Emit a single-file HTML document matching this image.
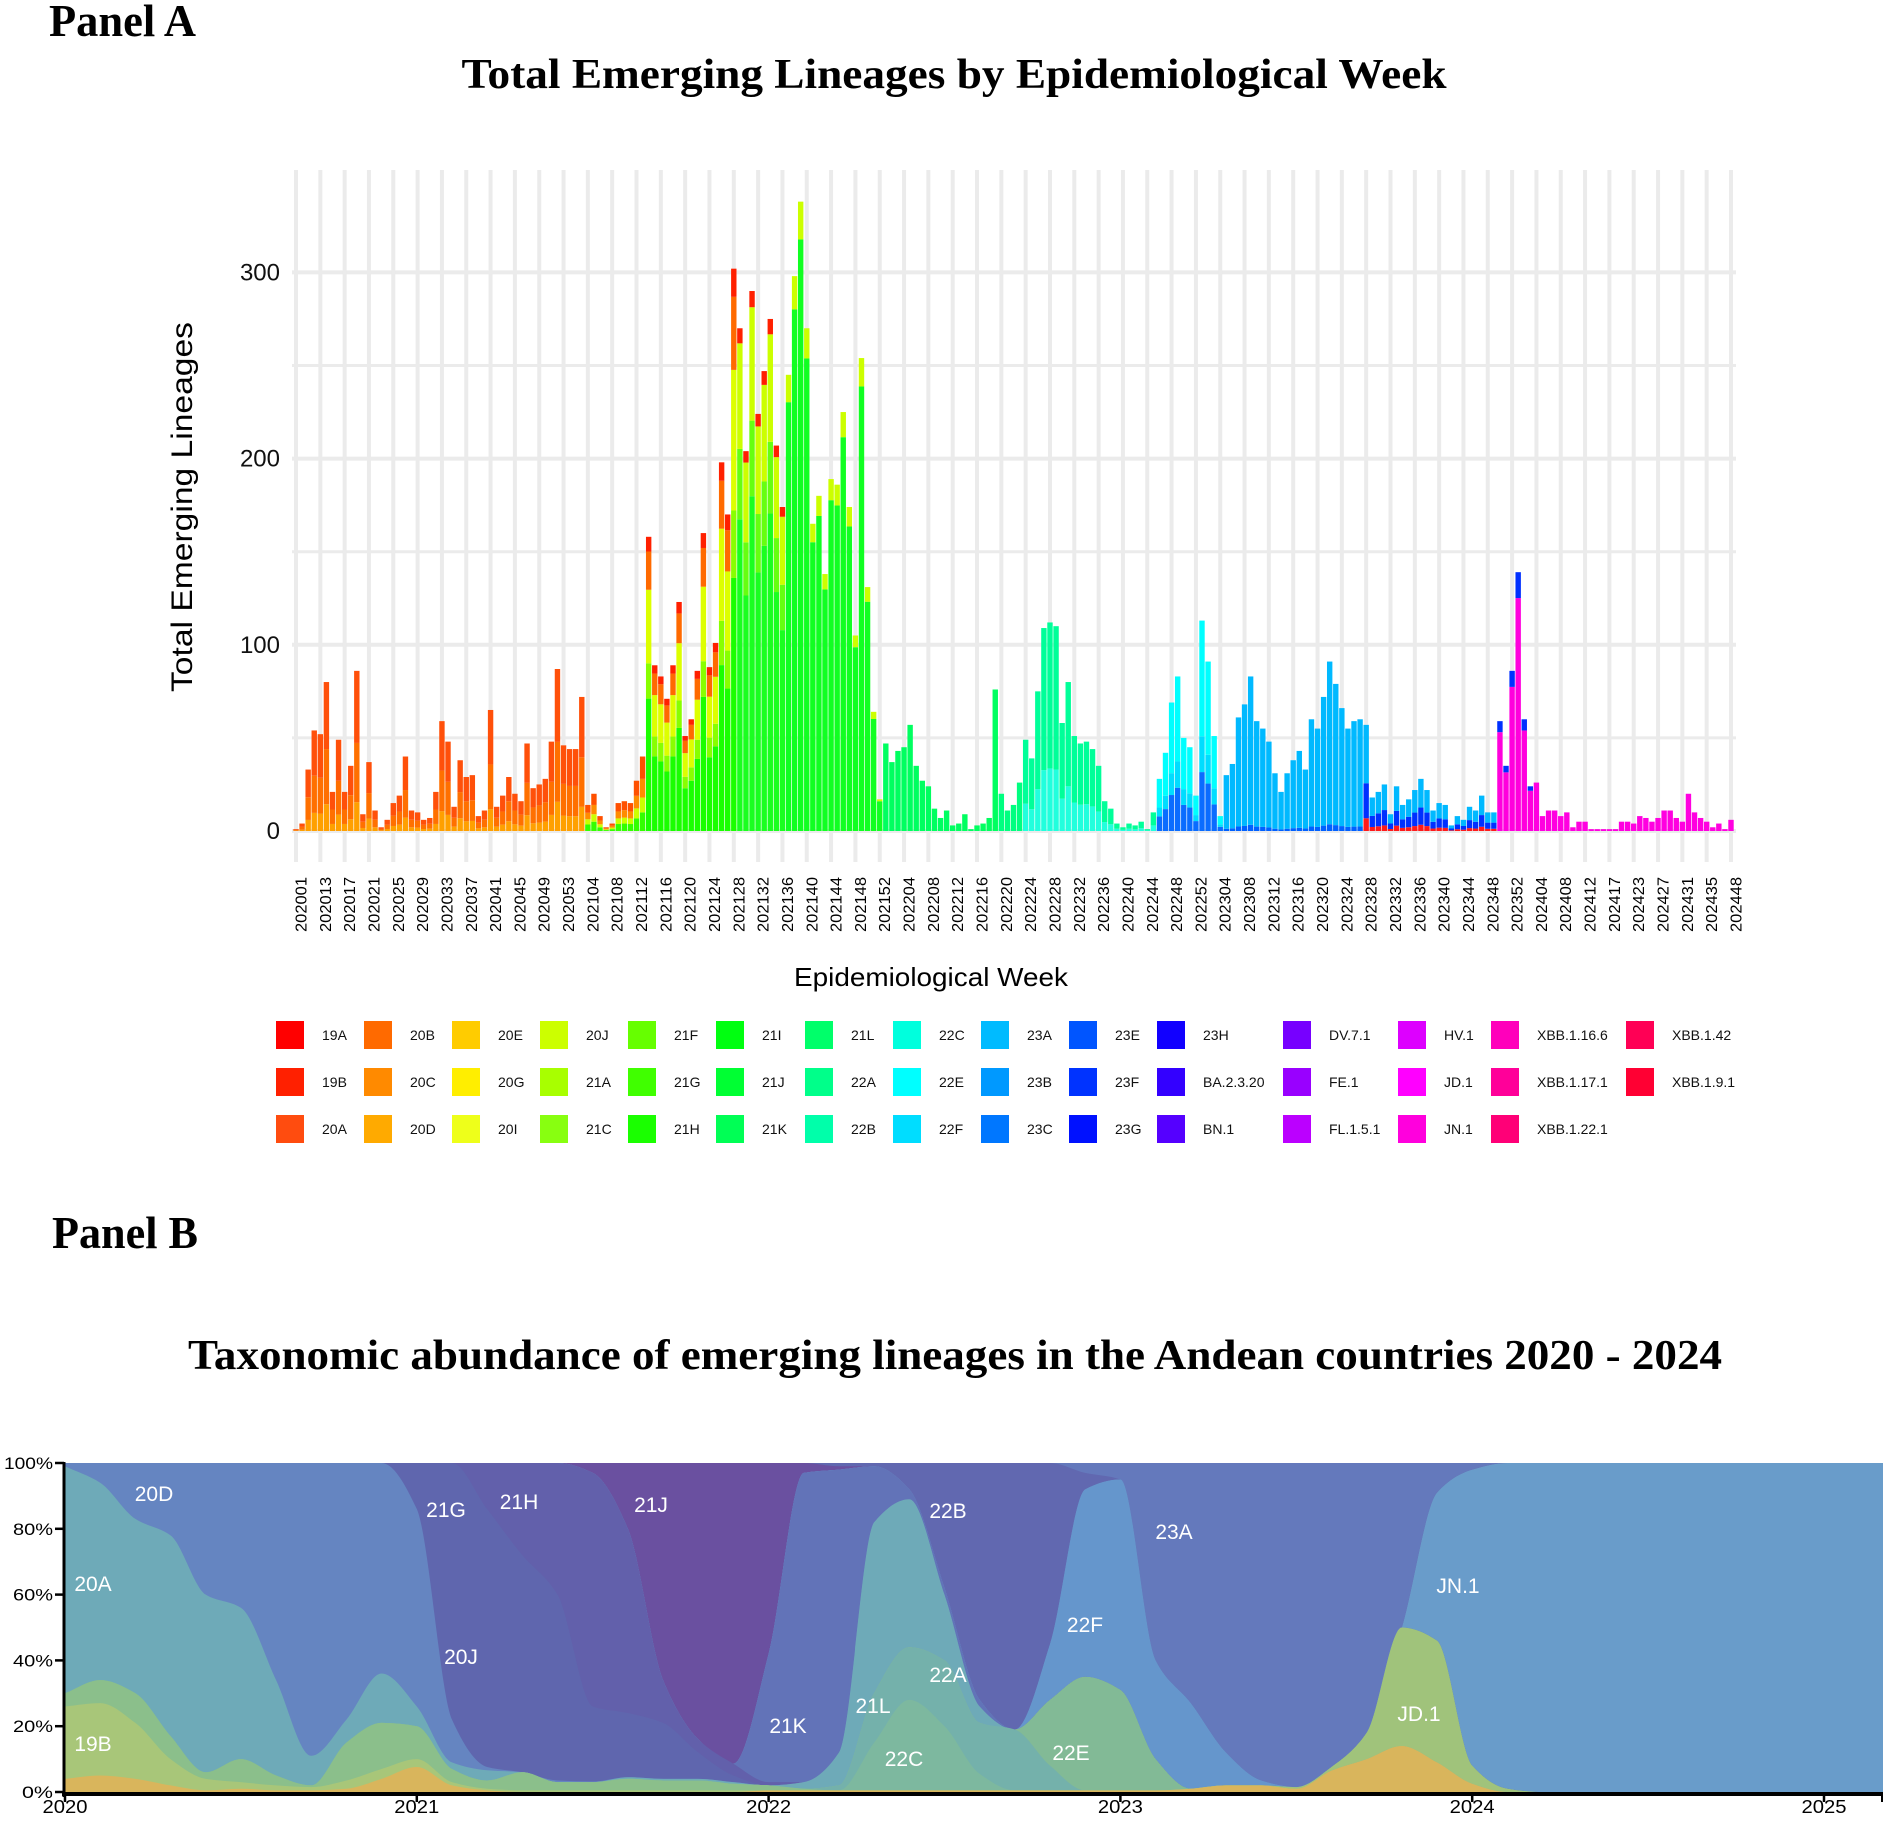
<!DOCTYPE html>
<html><head><meta charset="utf-8">
<style>
html,body{margin:0;padding:0;background:#fff;}
svg{display:block;}
text{font-family:"Liberation Sans",Arial,sans-serif;}
.serif{font-family:"Liberation Serif","Times New Roman",serif;font-weight:bold;}
</style></head>
<body>
<svg id="root" width="1892" height="1825" viewBox="0 0 1892 1825" xmlns="http://www.w3.org/2000/svg">
  <text class="serif" x="49" y="36" font-size="46" textLength="147" lengthAdjust="spacingAndGlyphs">Panel A</text>
  <text class="serif" x="954" y="88" font-size="42" text-anchor="middle" textLength="985" lengthAdjust="spacingAndGlyphs">Total Emerging Lineages by Epidemiological Week</text>
  <g id="gridA"></g>
  <g id="barsA"></g>
  <g id="axisA"></g>
  <text x="192" y="507" font-size="30" text-anchor="middle" transform="rotate(-90 192 507)" textLength="370" lengthAdjust="spacingAndGlyphs">Total Emerging Lineages</text>
  <text x="931" y="986" font-size="26" text-anchor="middle" textLength="274" lengthAdjust="spacingAndGlyphs">Epidemiological Week</text>
  <g id="legendA"></g>

  <text class="serif" x="52" y="1248" font-size="46" textLength="146" lengthAdjust="spacingAndGlyphs">Panel B</text>
  <text class="serif" x="955" y="1369" font-size="42" text-anchor="middle" textLength="1534" lengthAdjust="spacingAndGlyphs">Taxonomic abundance of emerging lineages in the Andean countries 2020 - 2024</text>
  <defs><clipPath id="clipB"><rect x="65" y="1462" width="1818" height="331"/></clipPath></defs>
  <g id="areasB" clip-path="url(#clipB)"></g>
  <g id="labelsB"></g>
  <g id="axisB"></g>
</svg>
<script>
// ---------------- Panel A data ----------------
const weekLabels = ["202001","202013","202017","202021","202025","202029","202033","202037","202041","202045","202049","202053","202104","202108","202112","202116","202120","202124","202128","202132","202136","202140","202144","202148","202152","202204","202208","202212","202216","202220","202224","202228","202232","202236","202240","202244","202248","202252","202304","202308","202312","202316","202320","202324","202328","202332","202336","202340","202344","202348","202352","202404","202408","202412","202417","202423","202427","202431","202435","202448"];
const weeklyTotals = [1,4,33,54,52,80,21,49,21,35,86,9,37,11,2,6,15,19,40,11,10,6,7,21,59,48,13,38,29,30,8,11,65,13,19,29,20,16,47,23,25,28,48,87,46,44,44,72,14,20,8,2,4,15,16,15,27,40,158,89,83,71,89,123,51,60,86,160,88,101,198,170,302,270,204,290,224,247,275,207,174,
245,298,338,270,165,180,138,189,186,225,174,105,254,131,64,17,47,37,43,45,57,35,27,24,12,7,11,3,4,9,1,3,4,7,76,20,11,14,26,49,39,75,109,112,110,58,80,51,47,48,44,35,16,12,4,2,4,3,5,1,10,28,42,69,83,50,45,19,113,91,51,8,30,36,61,68,83,59,55,48,31,21,
31,38,43,33,60,55,72,91,79,66,55,59,60,57,18,21,25,9,24,14,17,22,28,22,11,15,14,3,8,6,13,11,19,10,10,59,35,86,139,60,24,26,8,11,11,8,10,2,5,5,1,1,1,1,1,5,5,4,8,7,5,7,11,11,7,5,20,10,7,5,2,4,1,6];
const eraStart = [0,48,58,73,81,97,116,120,142,153,176,198,204];
const eraProfile = ["P1","P2","P3","P4a","P4b","P5","P5b","P6","P7","P8","P9","P10a","P10b"];
const yTicksA = [0,100,200,300];
const legendLabels = ["19A","19B","20A","20B","20C","20D","20E","20G","20I","20J","21A","21C","21F","21G","21H","21I","21J","21K","21L","22A","22B","22C","22E","22F","23A","23B","23C","23E","23F","23G","23H","BA.2.3.20","BN.1","DV.7.1","FE.1","FL.1.5.1","HV.1","JD.1","JN.1","XBB.1.16.6","XBB.1.17.1","XBB.1.22.1","XBB.1.42","XBB.1.9.1"];
const legendColors = ["#ff0000","#ff2000","#ff4c0f","#ff6a00","#ff8a00","#ffaa00","#ffcc00","#ffee00","#eeff1a","#ccff00","#a8ff00","#88ff10","#66ff00","#40ff00","#1aff00","#00ff10","#00ff33","#00ff55","#00ff6a","#00ff8a","#00ffaa","#00ffdd","#00ffff","#00ddff","#00bbff","#0099ff","#0077ff","#0055ff","#0033ff","#0011ff","#1100ff","#3300ff","#5500ff","#7700ff","#9900ff","#bb00ff","#dd00ff","#ff00ff","#ff00dd","#ff00bb","#ff0099","#ff0077","#ff0055","#ff0033"];
const profiles = {
  P1:[["#ffa000",0.18],["#ff7000",0.37],["#ff500a",0.45]],
  P2:[["#33ff00",0.25],["#ccff00",0.2],["#ff8c00",0.25],["#ff5000",0.3]],
  P3:[["#1aff00",0.45],["#88ff00",0.12],["#ddff00",0.25],["#ff6a00",0.13],["#ff2000",0.05]],
  P4a:[["#1aff20",0.62],["#66ff10",0.14],["#ccff00",0.21],["#ff2000",0.03]],
  P4b:[["#11ff22",0.94],["#ccff00",0.06]],
  P5:[["#00ff60",1]],
  P5b:[["#00ff80",1]],
  P6:[["#22ffdd",0.3],["#00ff99",0.7]],
  P7:[["#0a6cff",0.28],["#00ddff",0.17],["#00ffff",0.55]],
  P8:[["#0060ff",0.04],["#00b9ff",0.96]],
  P9:[["#ff1a1a",0.12],["#0030ff",0.33],["#00b9ff",0.55]],
  P10a:[["#ff00dd",0.9],["#0030ff",0.1]],
  P10b:[["#ff00e0",1]]
};
const NS="http://www.w3.org/2000/svg";
function mk(tag,attrs,parent){const e=document.createElementNS(NS,tag);for(const k in attrs)e.setAttribute(k,attrs[k]);parent.appendChild(e);return e;}
const xA0=296,xA1=1731,yA0=831,pxPerUnit=1.862;
const nBars=weeklyTotals.length;
const step=(xA1-xA0)/(nBars-1);
function xA(i){return xA0+i*step;}
function yA(v){return yA0-v*pxPerUnit;}
const gridA=document.getElementById("gridA");
for(let v=0;v<=300;v+=50){
  const l=mk("line",{x1:292,x2:1736,y1:yA(v),y2:yA(v),stroke:"#ebebeb","stroke-width":v%100===0?4:3},gridA);
  
  
}
const axisA=document.getElementById("axisA");
weekLabels.forEach((lab,k)=>{
  const i=k*4;const x=xA(Math.min(i,nBars-1));
  const l=mk("line",{x1:x,x2:x,y1:170,y2:862,stroke:"#ebebeb","stroke-width":4},gridA);
  
  
  const tx=x+6,ty=877;
  const t=mk("text",{x:tx,y:ty,"font-size":16,"text-anchor":"end","dominant-baseline":"central",transform:`rotate(-90 ${tx} ${ty})`,textLength:55,lengthAdjust:"spacingAndGlyphs"},axisA);
  t.textContent=lab;
  
  
});
yTicksA.forEach(v=>{
  const t=mk("text",{x:280,y:yA(v)+8,"font-size":24,"text-anchor":"end",fill:"#111"},axisA);
  t.textContent=String(v);
  
  
});
function profileOf(i){let p=eraProfile[0];for(let k=0;k<eraStart.length;k++){if(i>=eraStart[k])p=eraProfile[k];}return profiles[p];}
const barsA=document.getElementById("barsA");
weeklyTotals.forEach((v,i)=>{
  const g=mk("g",{},barsA);
  
  
  let acc=0;
  profileOf(i).forEach(([c,f])=>{
    const h=v*f;
    const r=mk("rect",{x:xA(i)-2.7,width:5.4,y:yA(acc+h),height:Math.max(0,h*pxPerUnit),fill:c},g);
    
    
    acc+=h;
  });
});
const legendA=document.getElementById("legendA");
const colX=[276,364,452,540,628,716,805,893,981,1069,1157,1283,1398,1491,1626];
const rowY=[1035,1082,1129];
legendLabels.forEach((lab,k)=>{
  const c=Math.floor(k/3),r=k%3;
  const g=mk("g",{},legendA);
  
  
  const sw=mk("rect",{x:colX[c],y:rowY[r]-14,width:28,height:28,fill:legendColors[k]},g);
  
  
  const t=mk("text",{x:colX[c]+46,y:rowY[r]+5,"font-size":14,fill:"#111"},g);
  t.textContent=lab;
  
  
});

// ---------------- Panel B data (cumulative top %, 0 = no extra) ----------------
const timeYears=[0,0.1,0.2,0.3,0.4,0.5,0.6,0.7,0.8,0.9,1.0,1.1,1.2,1.3,1.4,1.5,1.6,1.7,1.8,1.9,2.0,2.1,2.2,2.3,2.4,2.5,2.6,2.7,2.8,2.9,3.0,3.1,3.2,3.3,3.4,3.5,3.6,3.7,3.8,3.9,4.0,4.1,4.2,5.2];
const topBase=[4,5,4,2,0.5,1,0.5,0.5,1,4,7.6,2,0.5,0,0,0,0,0,0,0,0.5,0.5,0.5,0.5,0.5,0.5,0.5,0.5,0.5,0.5,0.5,0.5,1,2,2,1,6.5,10,14,9,2.5,0,0,0];
const top19B=[26,27,21,10,4,3,2,1.5,3.5,7,10,3,1,0.5,0.5,0.5,0.5,0.5,0.5,0.5,0,0,0,0,0,0,0,0,0,0,0,0,0,0,0,0,0,0,0,0,0,0,0,0];
const topGreen=[30,34,30,17,6,10,5,2,15,21,20,7,3.5,6,3,3,4,3.5,3.5,2.5,2,1,0,0,0,0,0,0,0,0,0,0,0,0,0,0,0,0,0,0,0,0,0,0];
const top22C=[0,0,0,0,0,0,0,0,0,0,0,0,0,0,0,0,0,0,0,0,0,0,0,15,28,20,5.5,0,0,0,0,0,0,0,0,0,0,0,0,0,0,0,0,0];
const top22A=[0,0,0,0,0,0,0,0,0,0,0,0,0,0,0,0,0,0,0,0,0,0,2,30,44,40,21,19,8,0,0,0,0,0,0,0,0,0,0,0,0,0,0,0];
const top22E=[0,0,0,0,0,0,0,0,0,0,0,0,0,0,0,0,0,0,0,0,0,0,0,0,0,0,0,0,28,35,31,10,1,0,0,0,0,0,0,0,0,0,0,0];
const topJD1=[0,0,0,0,0,0,0,0,0,0,0,0,0,0,0,0,0,0,0,0,0,0,0,0,0,0,0,0,0,0,0,0,0,0,0,1.5,7.6,18,50,46,8,1,0,0];
const topTeal=[99,94,83,78,60,56,34,11,22,36,26,9,6.6,6,3,3,4.5,4,4,3,2,3,12,82,89,60,26,18,28,0,0,0,0,0,0,0,0,0,0,0,0,0,0,0];
const top20D=[100,100,100,100,100,100,100,100,100,100,86,22,7.6,6,3.5,3.2,0,0,0,0,0,0,0,0,0,0,0,0,0,0,0,0,0,0,0,0,0,0,0,0,0,0,0,0];
const top21G=[100,100,100,100,100,100,100,100,100,100,100,100,86,72,60,26,24,21,12,5,0,0,0,0,0,0,0,0,0,0,0,0,0,0,0,0,0,0,0,0,0,0,0,0];
const top21H=[100,100,100,100,100,100,100,100,100,100,100,100,100,100,100,97,80,34,16,8.6,3,0,0,0,0,0,0,0,0,0,0,0,0,0,0,0,0,0,0,0,0,0,0,0];
const top21K=[0,0,0,0,0,0,0,0,0,0,0,0,0,0,0,0,0,0,0,0,42,97,98,99,92,62,28,18,0,0,0,0,0,0,0,0,0,0,0,0,0,0,0,0];
const top22F=[0,0,0,0,0,0,0,0,0,0,0,0,0,0,0,0,0,0,0,0,0,0,0,0,0,0,0,0,45,92,95,40,27,12,3.5,1.5,0,0,0,0,0,0,0,0];
const topJN1=[0,0,0,0,0,0,0,0,0,0,0,0,0,0,0,0,0,0,0,0,0,0,0,0,0,0,0,0,0,0,0,0,0,0,0,0,0,0,50,91,98,100,100,100];
const top21J=[100,100,100,100,100,100,100,100,100,100,100,100,100,100,100,100,100,100,100,100,100,100,99,0,0,0,0,0,0,0,0,0,0,0,0,0,0,0,0,0,0,0,0,0];
const top22B=[0,0,0,0,0,0,0,0,0,0,0,0,0,0,0,0,0,0,0,0,0,0,100,100,100,100,100,100,100,97,0,0,0,0,0,0,0,0,0,0,0,0,0,0];
const top23A=[100,100,100,100,100,100,100,100,100,100,100,100,100,100,100,100,100,100,100,100,100,100,100,100,100,100,100,100,100,100,100,100,100,100,100,100,100,100,100,100,100,100,100,100];
const streamNames=["base","19B","green","22C","22A","22E","JD.1","20A-21L","20D","21G","21H","21K","22F","JN.1","21J","22B","23A"];
const streamTops=[topBase,top19B,topGreen,top22C,top22A,top22E,topJD1,topTeal,top20D,top21G,top21H,top21K,top22F,topJN1,top21J,top22B,top23A];
const streamColors=["#d9b55c","#a8c679","#8bbf8b","#7db89f","#74b1ab","#82ba96","#a0c37b","#6eaab8","#6585c1","#5f66ae","#6260ab","#6273b8","#6596cc","#699cca","#6a50a0","#6168b0","#6479bc"];
const streamLabels=[["20D",154,1493],["21G",446,1509],["21H",519,1501],["21J",651,1504],["22B",948,1510],["23A",1174,1531],["20A",93,1583],["JN.1",1458,1585],["22F",1085,1624],["20J",461,1656],["22A",948,1674],["21L",873,1705],["JD.1",1419,1713],["21K",788,1725],["19B",93,1743],["22E",1071,1752],["22C",904,1758]];
const yearTicks=[2020,2021,2022,2023,2024,2025];
const pctTicks=[0,20,40,60,80,100];

const xB0=65,pxYear=351.8,yB0=1792,pxPct=3.29;
function xB(t){return xB0+t*pxYear;}
function yB(p){return yB0-p*pxPct;}
const cum=[];
streamTops.forEach((arr,k)=>{
  cum.push(arr.map((v,i)=>Math.max(v,k>0?cum[k-1][i]:0)));
});
function monotonePath(pts){
  const n=pts.length;const dx=[],m=[],s=[];
  for(let i=0;i<n-1;i++){dx.push(pts[i+1][0]-pts[i][0]);s.push((pts[i+1][1]-pts[i][1])/dx[i]);}
  m[0]=s[0];m[n-1]=s[n-2];
  for(let i=1;i<n-1;i++){m[i]=(s[i-1]*s[i]<=0)?0:3*(dx[i-1]+dx[i])/((2*dx[i]+dx[i-1])/s[i-1]+(dx[i]+2*dx[i-1])/s[i]);}
  let d=`M${pts[0][0]},${pts[0][1]}`;
  for(let i=0;i<n-1;i++){const h=dx[i]/3;d+=` C${pts[i][0]+h},${pts[i][1]+m[i]*h} ${pts[i+1][0]-h},${pts[i+1][1]-m[i+1]*h} ${pts[i+1][0]},${pts[i+1][1]}`;}
  return d;
}
const areasB=document.getElementById("areasB");
for(let k=streamTops.length-1;k>=0;k--){
  const pts=timeYears.map((t,i)=>[xB(t),yB(cum[k][i])]);
  const d=monotonePath(pts)+` L${xB(timeYears[timeYears.length-1])},${yB0} L${xB(0)},${yB0} Z`;
  const p=mk("path",{d:d,fill:streamColors[k]},areasB);
  
  
}
const labelsB=document.getElementById("labelsB");
streamLabels.forEach(([lab,x,y])=>{
  const t=mk("text",{x:x,y:y+8,"font-size":21,fill:"#fff","text-anchor":"middle"},labelsB);
  t.textContent=lab;
  
  
});
const axisB=document.getElementById("axisB");
const al=mk("line",{x1:64,x2:64,y1:1462,y2:1797,stroke:"#000","stroke-width":3},axisB);


const bl=mk("line",{x1:62,x2:1883,y1:1794,y2:1794,stroke:"#000","stroke-width":4},axisB);


pctTicks.forEach(p=>{
  const tk=mk("line",{x1:55,x2:64,y1:yB(p),y2:yB(p),stroke:"#000","stroke-width":2.5},axisB);
  
  
  const t=mk("text",{x:53,y:yB(p)+6,"font-size":17,"text-anchor":"end",fill:"#000",textLength:p===100?49:(p===0?31:40),lengthAdjust:"spacingAndGlyphs"},axisB);
  t.textContent=p+"%";
  
  
});
yearTicks.forEach(yr=>{
  const x=xB(yr-2020);
  const tk=mk("line",{x1:x,x2:x,y1:1794,y2:1802,stroke:"#000","stroke-width":2.5},axisB);
  
  
  const t=mk("text",{x:x,y:1813,"font-size":18,"text-anchor":"middle",fill:"#000",textLength:45,lengthAdjust:"spacingAndGlyphs"},axisB);
  t.textContent=String(yr);
  
  
});
const rt=mk("line",{x1:1882,x2:1882,y1:1794,y2:1802,stroke:"#000","stroke-width":2},axisB);


</script>
</body></html>
